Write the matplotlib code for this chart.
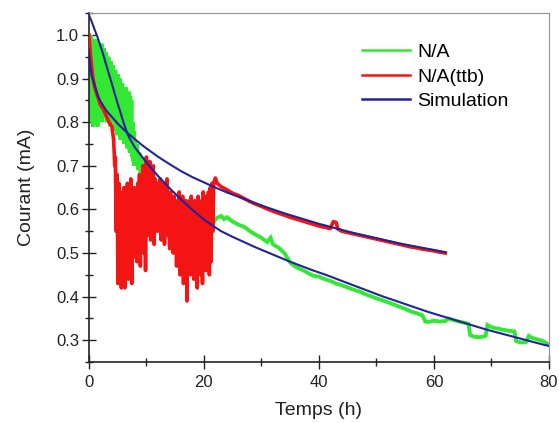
import matplotlib
matplotlib.use("Agg")
import matplotlib.pyplot as plt
from matplotlib.ticker import MultipleLocator

plt.rcParams['font.family'] = ['Liberation Sans', 'DejaVu Sans']

# ---------------- data ----------------
green_t = [0.0, 0.1, 0.2, 0.3, 0.4, 0.5, 0.6, 0.7, 0.8, 0.9, 1.0, 1.1, 1.2, 1.3, 1.4, 1.5,
           1.6, 1.7, 1.8, 1.9, 2.0, 2.1, 2.2, 2.3, 2.4, 2.5, 2.6, 2.7, 2.8, 2.9, 3.0, 3.1,
           3.2, 3.3, 3.4, 3.5, 3.6, 3.7, 3.8, 3.9, 4.0, 4.1, 4.2, 4.3, 4.4, 4.5, 4.6, 4.7,
           4.8, 4.9, 5.0, 5.1, 5.2, 5.3, 5.4, 5.5, 5.6, 5.7, 5.8, 5.9, 6.0, 6.1, 6.2, 6.3,
           6.4, 6.5, 6.6, 6.7, 6.8, 6.9, 7.0, 7.1, 7.2, 7.3, 7.4, 7.5, 7.6, 7.7, 7.8, 7.9,
           8.0, 8.2, 8.4, 8.6, 8.8, 9.0, 9.2, 9.4, 9.6, 9.8, 10.0, 10.3, 10.6, 10.9, 11.2,
           11.5, 11.8, 12.1, 12.5, 13.0, 13.5, 14, 15, 16, 17, 18, 19, 20, 21, 21.6, 22.2,
           23.0, 23.5, 24, 25, 26, 27, 28, 29, 30, 31, 31.6, 32, 33, 34, 35, 36, 37, 38,
           39, 40, 41, 42, 43, 44, 45, 46, 47, 48, 49, 50, 51, 52, 53, 54, 55, 56, 57, 58,
           58.5, 59, 60, 61, 62, 62.5, 63, 64, 65, 66, 66.3, 67, 68, 69, 69.3, 70, 71, 72,
           73, 74, 74.3, 75, 76, 76.5, 77, 78, 79, 80]
green_v = [0.90, 0.82, 0.97, 0.80, 1.00, 0.84, 0.99, 0.79, 0.96, 0.83, 0.99, 0.80, 0.97, 0.86,
           0.99, 0.79, 0.95, 0.82, 0.98, 0.81, 0.97, 0.84, 0.98, 0.80, 0.96, 0.85, 0.97, 0.81,
           0.95, 0.83, 0.96, 0.80, 0.94, 0.84, 0.95, 0.82, 0.93, 0.79, 0.94, 0.83, 0.92, 0.80,
           0.93, 0.82, 0.91, 0.78, 0.92, 0.81, 0.90, 0.77, 0.91, 0.80, 0.89, 0.78, 0.90, 0.76,
           0.88, 0.79, 0.89, 0.77, 0.88, 0.75, 0.87, 0.78, 0.88, 0.76, 0.87, 0.74, 0.86, 0.77,
           0.87, 0.73, 0.86, 0.75, 0.85, 0.72, 0.80, 0.71, 0.78, 0.70, 0.76, 0.70, 0.75, 0.69,
           0.73, 0.68, 0.72, 0.67, 0.71, 0.67, 0.70, 0.66, 0.69, 0.655, 0.68, 0.65, 0.665, 0.64,
           0.655, 0.635, 0.645, 0.625, 0.615, 0.605, 0.595, 0.59, 0.585, 0.58, 0.575, 0.57,
           0.58, 0.585, 0.578, 0.582, 0.572, 0.565, 0.56, 0.55, 0.542, 0.535, 0.525, 0.535,
           0.52, 0.512, 0.50, 0.478, 0.468, 0.462, 0.455, 0.448, 0.446, 0.44, 0.436, 0.43,
           0.426, 0.421, 0.416, 0.412, 0.406, 0.401, 0.396, 0.392, 0.387, 0.382, 0.377, 0.372,
           0.366, 0.362, 0.357, 0.343, 0.342, 0.345, 0.343, 0.344, 0.35, 0.348, 0.344, 0.341,
           0.338, 0.312, 0.308, 0.307, 0.31, 0.335, 0.33, 0.327, 0.324, 0.322, 0.32, 0.298,
           0.295, 0.296, 0.31, 0.306, 0.302, 0.298, 0.29]

red_t = [0.0, 0.3, 0.6, 1.0, 1.5, 2.0, 2.5, 3.0, 3.5, 4.0, 4.3, 4.5,
         4.60, 4.75, 4.90, 5.05, 5.20, 5.35, 5.50, 5.65, 5.80, 5.95, 6.10, 6.25, 6.40, 6.55,
         6.70, 6.85, 7.00, 7.15, 7.30, 7.45, 7.60, 7.75, 7.90, 8.05, 8.20, 8.35, 8.50, 8.65,
         8.80, 8.95, 9.10, 9.25, 9.40, 9.55, 9.70, 9.85, 10.00, 10.15, 10.30, 10.45, 10.60,
         10.75, 10.90, 11.05, 11.20, 11.35, 11.50, 11.65, 11.80, 11.95, 12.10, 12.25, 12.40,
         12.55, 12.70, 12.85, 13.00, 13.15, 13.30, 13.45, 13.60, 13.75, 13.90, 14.05, 14.20,
         14.35, 14.50, 14.65, 14.80, 14.95, 15.10, 15.25, 15.40, 15.55, 15.70, 15.85, 16.00,
         16.15, 16.30, 16.45, 16.60, 16.75, 16.90, 17.05, 17.20, 17.35, 17.50, 17.65, 17.80,
         17.95, 18.10, 18.25, 18.40, 18.55, 18.70, 18.85, 19.00, 19.15, 19.30, 19.45, 19.60,
         19.75, 19.90, 20.05, 20.20, 20.35, 20.50, 20.65, 20.80, 20.95, 21.10, 21.25, 21.40,
         21.55, 21.7, 22.0, 22.3, 23, 24, 25, 26, 27, 28, 29, 30, 31, 32, 33, 34, 35, 36, 37,
         38, 39, 40, 41, 42, 42.5, 43, 43.3, 44, 45, 46, 47, 48, 49, 50, 51, 52, 53, 54, 55,
         56, 57, 58, 59, 60, 61, 62]
red_v = [1.00, 0.95, 0.91, 0.88, 0.86, 0.84, 0.83, 0.815, 0.80, 0.79, 0.76, 0.70,
         0.72, 0.55, 0.68, 0.43, 0.66, 0.45, 0.64, 0.42, 0.62, 0.48, 0.65, 0.42, 0.63, 0.50,
         0.66, 0.44, 0.64, 0.52, 0.67, 0.43, 0.62, 0.49, 0.65, 0.52, 0.63, 0.48, 0.66, 0.53,
         0.68, 0.47, 0.66, 0.55, 0.70, 0.50, 0.69, 0.46, 0.72, 0.54, 0.70, 0.58, 0.71,
         0.53, 0.68, 0.57, 0.70, 0.52, 0.67, 0.58, 0.66, 0.55, 0.65, 0.59, 0.67,
         0.53, 0.64, 0.57, 0.66, 0.52, 0.65, 0.58, 0.67, 0.54, 0.63, 0.51, 0.64,
         0.56, 0.62, 0.50, 0.63, 0.55, 0.61, 0.47, 0.62, 0.52, 0.64, 0.45, 0.62,
         0.50, 0.63, 0.43, 0.61, 0.48, 0.62, 0.39, 0.60, 0.47, 0.62, 0.45, 0.63,
         0.50, 0.61, 0.44, 0.62, 0.48, 0.60, 0.42, 0.63, 0.49, 0.61, 0.45, 0.62,
         0.43, 0.64, 0.50, 0.62, 0.46, 0.63, 0.52, 0.64, 0.45, 0.65, 0.48, 0.66,
         0.55, 0.66, 0.672, 0.66, 0.652, 0.645, 0.637, 0.632, 0.625, 0.618, 0.612, 0.607,
         0.601, 0.596, 0.591, 0.587, 0.582, 0.578, 0.574, 0.57, 0.566, 0.562, 0.559, 0.556,
         0.572, 0.57, 0.555, 0.55, 0.547, 0.544, 0.541, 0.538, 0.535, 0.532, 0.529, 0.526,
         0.523, 0.52, 0.517, 0.514, 0.512, 0.509, 0.507, 0.505, 0.502, 0.50]

sim1_t = [0, 0.5, 1, 1.5, 2, 2.5, 3, 3.5, 4, 4.5, 5, 5.5, 6, 6.6, 7, 8, 9, 10, 11, 12, 13,
          14, 15, 16, 17, 18, 19, 20, 21.6, 23, 25, 27, 29, 31, 33, 35, 37, 39, 41, 43, 45,
          47, 49, 51, 53, 55, 57, 59, 61, 63, 65, 67, 69, 71, 73, 75, 77, 79, 80]
sim1_v = [1.046, 1.03, 1.012, 0.995, 0.975, 0.955, 0.932, 0.91, 0.888, 0.865, 0.843, 0.822,
          0.80, 0.777, 0.765, 0.742, 0.725, 0.708, 0.692, 0.677, 0.663, 0.649, 0.636, 0.623,
          0.611, 0.599, 0.588, 0.577, 0.562, 0.55, 0.537, 0.525, 0.513, 0.502, 0.491, 0.48,
          0.47, 0.46, 0.451, 0.441, 0.431, 0.421, 0.411, 0.401, 0.392, 0.383, 0.374, 0.365,
          0.357, 0.349, 0.341, 0.333, 0.325, 0.318, 0.311, 0.304, 0.297, 0.29, 0.287]

sim2_t = [0, 0.2, 0.5, 1, 1.5, 2, 3, 4, 5, 6, 7, 8, 9, 10, 12, 14, 16, 18, 20, 22, 24, 26,
          28, 30, 32, 34, 36, 38, 40, 42, 44, 46, 48, 50, 52, 54, 56, 58, 60, 62]
sim2_v = [0.966, 0.935, 0.905, 0.885, 0.862, 0.848, 0.827, 0.812, 0.797, 0.784, 0.772,
          0.761, 0.75, 0.74, 0.721, 0.704, 0.688, 0.674, 0.662, 0.65, 0.639, 0.629, 0.619,
          0.609, 0.60, 0.591, 0.583, 0.575, 0.567, 0.56, 0.553, 0.546, 0.54, 0.534, 0.528,
          0.522, 0.517, 0.512, 0.507, 0.502]

labels = ["N/A", "N/A(ttb)", "Simulation"]
x_ticks = [0, 20, 40, 60, 80]
y_ticks = [0.3, 0.4, 0.5, 0.6, 0.7, 0.8, 0.9, 1.0]

# ---------------- figure ----------------
fig = plt.figure(figsize=(5.59, 4.23), dpi=100)
ax = fig.add_axes([0.159, 0.144, 0.823, 0.825])

green_c = '#33e833'
red_c = '#f51414'
blue_c = '#22229a'

ax.plot(green_t, green_v, color=green_c, lw=2.8, label=labels[0], zorder=2,
        solid_joinstyle='miter')
ax.plot(red_t, red_v, color=red_c, lw=2.6, label=labels[1], zorder=3)
ax.plot(sim1_t, sim1_v, color=blue_c, lw=1.5, label=labels[2], zorder=4)
ax.plot(sim2_t, sim2_v, color=blue_c, lw=1.5, zorder=4)

ax.set_xlim(0, 80)
ax.set_ylim(0.25, 1.05)
ax.set_xticks(x_ticks)
ax.set_yticks(y_ticks)
ax.set_yticklabels([f"{v:.1f}" for v in y_ticks])
ax.xaxis.set_minor_locator(MultipleLocator(10))
ax.yaxis.set_minor_locator(MultipleLocator(0.05))
ax.tick_params(which='major', direction='inout', length=10, width=1.0, labelsize=12,
               colors='#222222', pad=2)
ax.tick_params(which='minor', direction='inout', length=6, width=1.0, colors='#222222')
ax.tick_params(axis='x', which='major', pad=4)

for s in ['left', 'bottom']:
    ax.spines[s].set_color('#222222')
    ax.spines[s].set_linewidth(1.2)
for s in ['top', 'right']:
    ax.spines[s].set_color('#999999')
    ax.spines[s].set_linewidth(0.9)

ax.set_xlabel("Temps (h)", fontsize=14, color='#222222', labelpad=9)
ax.set_ylabel("Courant (mA)", fontsize=14, color='#222222', labelpad=15)

leg = ax.legend(loc='upper left', bbox_to_anchor=(0.593, 0.913), frameon=False,
                fontsize=14, handlelength=2.5, handletextpad=0.35, labelspacing=0.35,
                borderaxespad=0, borderpad=0)
for h in leg.get_lines():
    h.set_linewidth(1.8)

fig.savefig("out.png", dpi=100)
